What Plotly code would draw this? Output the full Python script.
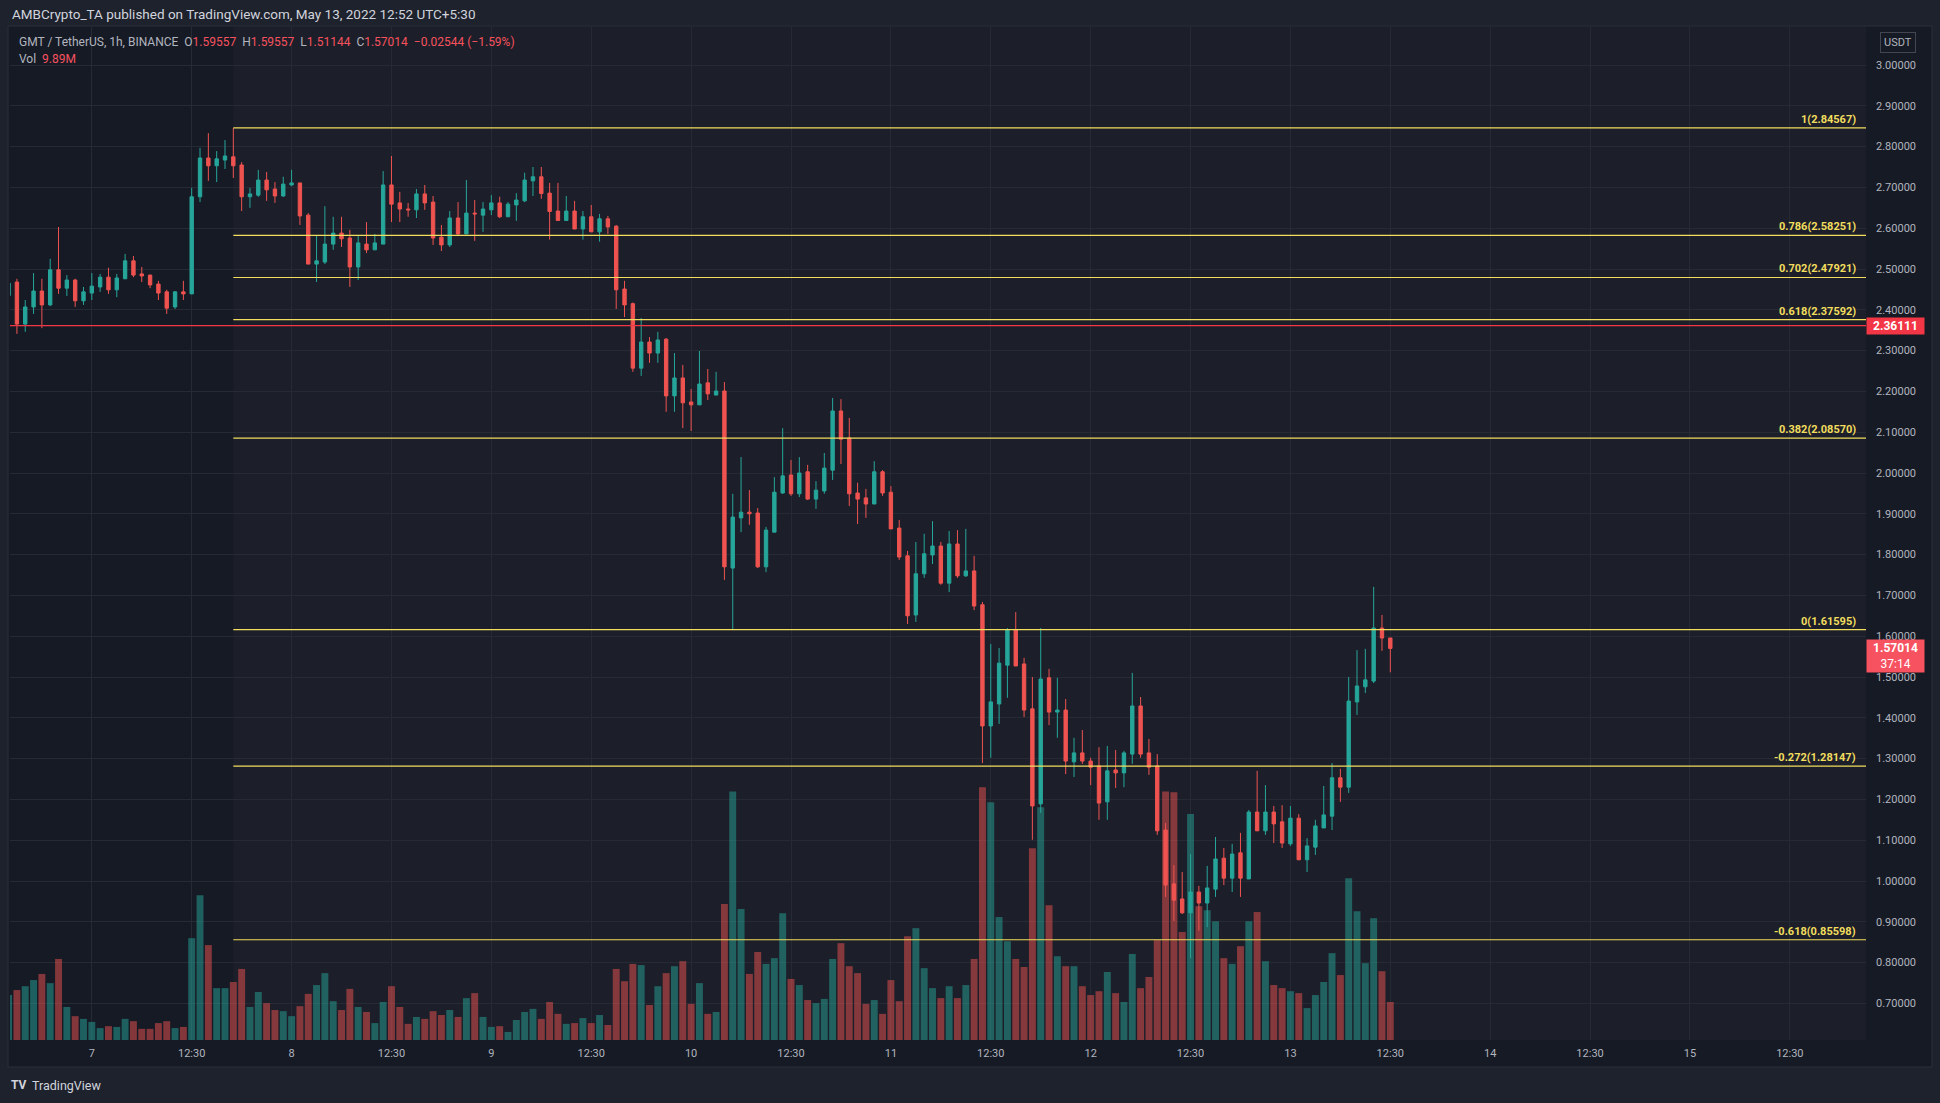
import pandas as pd
import plotly.graph_objects as go

# ---------------- data ----------------
START = "2022-05-06 14:30"   # first (partly hidden) hourly candle, UTC+5:30

opens = [
    2.435, 2.468, 2.365, 2.407, 2.446, 2.412, 2.498, 2.453, 2.473, 2.422,
    2.441, 2.456, 2.480, 2.449, 2.476, 2.520, 2.488, 2.485, 2.463, 2.444,
    2.407, 2.444, 2.439, 2.677, 2.772, 2.753, 2.767, 2.775, 2.755, 2.677,
    2.681, 2.718, 2.696, 2.679, 2.706, 2.711, 2.632, 2.512, 2.517, 2.561,
    2.588, 2.576, 2.505, 2.561, 2.547, 2.561, 2.706, 2.662, 2.647, 2.645,
    2.684, 2.664, 2.578, 2.559, 2.625, 2.586, 2.637, 2.632, 2.645, 2.662,
    2.628, 2.657, 2.667, 2.716, 2.726, 2.686, 2.642, 2.619, 2.642, 2.598,
    2.628, 2.591, 2.623, 2.605, 2.451, 2.415, 2.257, 2.321, 2.294, 2.328,
    2.189, 2.233, 2.174, 2.167, 2.221, 2.191, 2.201, 1.767, 1.890, 1.904,
    1.902, 1.770, 1.855, 1.951, 1.995, 1.949, 2.003, 1.936, 1.956, 2.007,
    2.152, 2.086, 1.951, 1.939, 1.924, 2.003, 1.953, 1.865, 1.797, 1.652,
    1.753, 1.799, 1.821, 1.730, 1.826, 1.748, 1.760, 1.677, 1.380, 1.434,
    1.529, 1.615, 1.532, 1.422, 1.189, 1.498, 1.414, 1.419, 1.292, 1.314,
    1.294, 1.282, 1.194, 1.272, 1.265, 1.311, 1.429, 1.314, 1.282, 1.125,
    0.993, 0.956, 0.922, 0.973, 0.946, 0.980, 1.056, 1.007, 1.069, 1.005,
    1.169, 1.123, 1.169, 1.145, 1.091, 1.154, 1.052, 1.083, 1.130, 1.159,
    1.253, 1.230, 1.439, 1.476, 1.490, 1.620, 1.59557,
]
highs = [
    2.470, 2.476, 2.424, 2.490, 2.476, 2.525, 2.603, 2.485, 2.476, 2.456,
    2.490, 2.488, 2.503, 2.488, 2.537, 2.532, 2.505, 2.486, 2.471, 2.449,
    2.446, 2.471, 2.699, 2.797, 2.833, 2.789, 2.816, 2.84567, 2.762, 2.699,
    2.743, 2.738, 2.713, 2.726, 2.743, 2.711, 2.637, 2.581, 2.654, 2.628,
    2.628, 2.596, 2.581, 2.615, 2.586, 2.740, 2.777, 2.689, 2.662, 2.696,
    2.706, 2.679, 2.608, 2.642, 2.664, 2.718, 2.669, 2.664, 2.681, 2.677,
    2.664, 2.686, 2.736, 2.750, 2.750, 2.711, 2.711, 2.679, 2.667, 2.642,
    2.657, 2.635, 2.630, 2.608, 2.471, 2.418, 2.380, 2.333, 2.346, 2.331,
    2.294, 2.265, 2.206, 2.299, 2.255, 2.248, 2.223, 1.949, 2.039, 1.958,
    1.914, 1.868, 1.990, 2.110, 2.032, 2.039, 2.020, 1.980, 2.049, 2.184,
    2.181, 2.135, 1.976, 1.961, 2.029, 2.007, 1.968, 1.885, 1.809, 1.831,
    1.851, 1.882, 1.831, 1.858, 1.860, 1.863, 1.797, 1.684, 1.581, 1.571,
    1.620, 1.659, 1.547, 1.500, 1.620, 1.520, 1.498, 1.446, 1.351, 1.370,
    1.302, 1.328, 1.331, 1.321, 1.319, 1.510, 1.451, 1.348, 1.311, 1.142,
    1.039, 1.022, 1.066, 0.988, 1.037, 1.108, 1.081, 1.091, 1.118, 1.174,
    1.270, 1.235, 1.184, 1.186, 1.184, 1.164, 1.105, 1.150, 1.233, 1.289,
    1.275, 1.500, 1.566, 1.569, 1.721, 1.652, 1.59557,
]
lows = [
    2.430, 2.341, 2.346, 2.390, 2.355, 2.409, 2.439, 2.434, 2.407, 2.412,
    2.424, 2.444, 2.439, 2.431, 2.476, 2.480, 2.468, 2.453, 2.424, 2.390,
    2.402, 2.424, 2.439, 2.664, 2.716, 2.713, 2.745, 2.723, 2.642, 2.650,
    2.677, 2.667, 2.662, 2.677, 2.703, 2.608, 2.512, 2.468, 2.512, 2.547,
    2.554, 2.456, 2.473, 2.539, 2.547, 2.561, 2.615, 2.615, 2.628, 2.625,
    2.645, 2.559, 2.544, 2.554, 2.583, 2.586, 2.569, 2.591, 2.632, 2.625,
    2.628, 2.618, 2.664, 2.679, 2.672, 2.572, 2.619, 2.619, 2.598, 2.572,
    2.591, 2.567, 2.586, 2.402, 2.382, 2.248, 2.238, 2.270, 2.270, 2.150,
    2.150, 2.110, 2.103, 2.167, 2.179, 2.191, 1.738, 1.615, 1.855, 1.873,
    1.767, 1.757, 1.855, 1.949, 1.944, 1.941, 1.934, 1.912, 1.949, 1.983,
    2.022, 1.919, 1.875, 1.890, 1.924, 1.944, 1.863, 1.787, 1.630, 1.635,
    1.743, 1.777, 1.726, 1.708, 1.743, 1.745, 1.664, 1.289, 1.302, 1.385,
    1.449, 1.527, 1.402, 1.101, 1.167, 1.382, 1.351, 1.262, 1.255, 1.287,
    1.235, 1.150, 1.150, 1.228, 1.230, 1.287, 1.302, 1.260, 1.113, 0.961,
    0.902, 0.919, 0.811, 0.878, 0.887, 0.961, 0.990, 0.973, 0.961, 1.005,
    1.123, 1.113, 1.093, 1.081, 1.086, 1.052, 1.022, 1.064, 1.130, 1.125,
    1.194, 1.216, 1.407, 1.461, 1.485, 1.564, 1.51144,
]
closes = [
    2.465, 2.365, 2.407, 2.446, 2.412, 2.498, 2.453, 2.473, 2.422, 2.444,
    2.458, 2.480, 2.449, 2.478, 2.520, 2.485, 2.483, 2.461, 2.441, 2.404,
    2.444, 2.439, 2.677, 2.772, 2.753, 2.770, 2.777, 2.753, 2.677, 2.684,
    2.718, 2.694, 2.679, 2.708, 2.711, 2.630, 2.512, 2.520, 2.561, 2.588,
    2.574, 2.505, 2.564, 2.547, 2.564, 2.706, 2.659, 2.647, 2.645, 2.684,
    2.662, 2.576, 2.559, 2.625, 2.586, 2.637, 2.635, 2.647, 2.662, 2.628,
    2.659, 2.669, 2.718, 2.726, 2.685, 2.641, 2.619, 2.642, 2.598, 2.628,
    2.591, 2.623, 2.603, 2.449, 2.412, 2.257, 2.321, 2.294, 2.326, 2.189,
    2.233, 2.172, 2.167, 2.218, 2.194, 2.201, 1.770, 1.892, 1.904, 1.900,
    1.770, 1.860, 1.953, 1.993, 1.949, 2.000, 1.936, 1.958, 2.012, 2.152,
    2.083, 1.949, 1.936, 1.924, 2.003, 1.951, 1.863, 1.794, 1.650, 1.753,
    1.802, 1.821, 1.730, 1.826, 1.748, 1.760, 1.674, 1.380, 1.439, 1.534,
    1.615, 1.527, 1.419, 1.184, 1.495, 1.414, 1.419, 1.294, 1.314, 1.294,
    1.279, 1.191, 1.270, 1.265, 1.314, 1.429, 1.311, 1.279, 1.123, 0.990,
    0.953, 0.922, 0.973, 0.946, 0.983, 1.054, 1.007, 1.066, 1.007, 1.169,
    1.123, 1.169, 1.140, 1.093, 1.154, 1.052, 1.086, 1.135, 1.162, 1.253,
    1.230, 1.441, 1.478, 1.493, 1.620, 1.59558, 1.57014,
]
volumes_m = [
    11.7, 13.0, 14.0, 15.6, 17.2, 14.8, 21.1, 8.6, 6.2, 5.5,
    4.7, 3.1, 3.6, 3.4, 5.5, 4.9, 2.9, 2.9, 4.4, 4.9,
    3.1, 3.4, 26.5, 37.7, 24.7, 13.5, 13.5, 15.1, 18.5, 8.6,
    12.5, 9.6, 7.8, 7.5, 6.2, 8.8, 12.0, 14.3, 17.4, 10.1,
    7.8, 13.3, 8.6, 7.3, 4.4, 9.9, 14.0, 8.6, 4.2, 6.0,
    5.5, 7.5, 6.5, 7.8, 6.0, 10.9, 12.2, 6.0, 3.4, 3.6,
    2.1, 5.2, 7.3, 8.1, 5.5, 9.9, 6.8, 4.2, 4.4, 5.7,
    4.4, 6.5, 3.9, 18.5, 15.3, 19.8, 19.5, 9.1, 14.0, 17.4,
    19.2, 20.5, 9.4, 14.8, 6.8, 7.3, 35.4, 64.7, 34.1, 17.2,
    22.9, 19.8, 21.3, 33.0, 15.9, 14.3, 10.4, 9.6, 10.7, 21.1,
    25.2, 19.2, 17.4, 9.4, 10.4, 6.8, 15.6, 10.1, 27.0, 29.1,
    18.7, 13.5, 10.9, 14.0, 10.9, 14.3, 21.1, 65.8, 61.9, 32.0,
    25.7, 21.1, 19.0, 49.9, 60.6, 35.1, 21.8, 19.2, 19.2, 14.0,
    11.7, 12.7, 17.7, 12.2, 9.9, 22.4, 13.5, 16.4, 26.0, 64.7,
    64.5, 28.1, 58.8, 34.8, 33.8, 30.9, 21.3, 19.8, 24.4, 30.9,
    33.3, 20.5, 14.3, 13.5, 12.7, 12.2, 8.3, 11.7, 15.1, 22.6,
    16.9, 42.1, 33.5, 20.0, 31.7, 17.9, 9.89,
]

fib_ratios = ["1", "0.786", "0.702", "0.618", "0.382", "0", "-0.272", "-0.618"]
fib_prices = [2.84567, 2.58251, 2.47921, 2.37592, 2.08570, 1.61595, 1.28147, 0.85598]
fib_anchor_index = 27          # candle where the fib tool starts
hline_price = 2.36111
countdown = "37:14"
day_labels = [7, 8, 9, 10, 11, 12, 13, 14, 15]

title_text = "AMBCrypto_TA published on TradingView.com, May 13, 2022 12:52 UTC+5:30"
symbol_text = "GMT / TetherUS, 1h, BINANCE"

# ---------------- geometry / style ----------------
W, H = 1940, 1103
ML, MR, MT, MB = 10, 74, 27, 63
PW, PH = W - ML - MR, H - MT - MB


def fx(px):
    return (px - ML) / PW


def fy(py):
    return (H - MB - py) / PH


BG_OUT = "#1e222d"
BG_PANE = "#161a25"
BG_SHADE = "#1c1f29"
GRID = "#262a35"
TXT = "#b2b5be"
TXT_HI = "#d1d4dc"
UP = "#26a69a"
DN = "#ef5350"
RED_TXT = "#f7525f"
FIB = "#f2dd5e"
FONT = "Roboto, 'Liberation Sans', sans-serif"

times = pd.date_range(START, periods=len(opens), freq="h")
t0 = times[0]
x_left = t0 + pd.Timedelta(hours=0.17)
x_right = t0 + pd.Timedelta(hours=223.15)

vol_colors = ["rgba(38,166,154,0.5)" if c >= o else "rgba(239,83,80,0.5)"
              for o, c in zip(opens, closes)]

fig = go.Figure()
fig.add_trace(go.Bar(
    x=times, y=volumes_m, yaxis="y",
    marker=dict(color=vol_colors, line=dict(width=0)),
    hoverinfo="skip", showlegend=False,
))
fig.add_trace(go.Candlestick(
    x=times, open=opens, high=highs, low=lows, close=closes, yaxis="y2",
    increasing=dict(line=dict(color=UP, width=1), fillcolor=UP),
    decreasing=dict(line=dict(color=DN, width=1), fillcolor=DN),
    whiskerwidth=0, hoverinfo="skip", showlegend=False,
))

tick_vals, tick_text = [], []
for d in day_labels:
    day = pd.Timestamp(2022, 5, d)
    tick_vals.append(day + pd.Timedelta(minutes=30))
    tick_text.append(str(d))
    tick_vals.append(day + pd.Timedelta(hours=12, minutes=30))
    tick_text.append("12:30")

shapes = [
    # pane with border (covers price axis and time axis area)
    dict(type="rect", xref="paper", yref="paper",
         x0=fx(8), x1=fx(1932), y0=fy(1067), y1=fy(26),
         fillcolor=BG_PANE, line=dict(color="#2a2e39", width=1), layer="below"),
    # fib background area
    dict(type="rect", xref="x", yref="paper",
         x0=times[fib_anchor_index], x1=x_right, y0=0, y1=1,
         fillcolor=BG_SHADE, line=dict(width=0), layer="below"),
    # red horizontal line
    dict(type="line", xref="paper", yref="y2", x0=0, x1=1,
         y0=hline_price, y1=hline_price, line=dict(color="#f23645", width=1.2)),
]
annotations = []
for r, p in zip(fib_ratios, fib_prices):
    shapes.append(dict(type="line", xref="x", yref="y2",
                       x0=times[fib_anchor_index], x1=x_right, y0=p, y1=p,
                       line=dict(color=FIB, width=1.2)))
    annotations.append(dict(
        xref="paper", yref="y2", x=fx(1858), y=p, xanchor="right", yanchor="bottom",
        text=f"<b>{r}({p:.5f})</b>", showarrow=False, yshift=0,
        font=dict(family=FONT, size=11, color=FIB)))

# price-axis labels
annotations.append(dict(
    xref="paper", yref="y2", x=fx(1866), y=hline_price, xanchor="left", yanchor="middle",
    text=f"<b>{hline_price:.5f}</b>", showarrow=False, bgcolor="#f23645", width=55,
    align="center", borderpad=1, font=dict(family=FONT, size=12, color="#ffffff")))
annotations.append(dict(
    xref="paper", yref="y2", x=fx(1866), y=closes[-1], xanchor="left", yanchor="middle",
    yshift=-8, text=f"<b>{closes[-1]:.5f}</b><br>{countdown}", showarrow=False,
    bgcolor=RED_TXT, width=55, align="center", borderpad=1,
    font=dict(family=FONT, size=12, color="#ffffff")))
annotations.append(dict(
    xref="paper", yref="paper", x=fx(1898), y=fy(42.5), xanchor="center", yanchor="middle",
    text="USDT", showarrow=False, bordercolor="#434651", borderwidth=1, borderpad=3,
    font=dict(family=FONT, size=11, color=TXT)))

# header texts
chg = closes[-1] - closes[-2]
pct = chg / closes[-2] * 100
sp = "\u00a0"


def red(s):
    return f"<span style='color:{RED_TXT}'>{s}</span>"


legend_line = (f"{symbol_text}{sp}{sp}O{red(f'{opens[-1]:.5f}')}{sp}{sp}"
               f"H{red(f'{highs[-1]:.5f}')}{sp}{sp}L{red(f'{lows[-1]:.5f}')}{sp}{sp}"
               f"C{red(f'{closes[-1]:.5f}')}{sp}{sp}"
               + red(f"\u2212{abs(chg):.5f}{sp}(\u2212{abs(pct):.2f}%)"))
annotations += [
    dict(xref="paper", yref="paper", x=fx(10), y=fy(14), xanchor="left", yanchor="middle",
         text=title_text, showarrow=False, font=dict(family=FONT, size=13.5, color=TXT_HI)),
    dict(xref="paper", yref="paper", x=fx(17), y=fy(42), xanchor="left", yanchor="middle",
         text=legend_line, showarrow=False, font=dict(family=FONT, size=12, color=TXT)),
    dict(xref="paper", yref="paper", x=fx(17), y=fy(59), xanchor="left", yanchor="middle",
         text=f"Vol{sp}{sp}{red(f'{volumes_m[-1]:.2f}M')}", showarrow=False,
         font=dict(family=FONT, size=12, color=TXT)),
    dict(xref="paper", yref="paper", x=fx(9), y=fy(1085), xanchor="left", yanchor="middle",
         text="<b>TV</b>", showarrow=False, font=dict(family=FONT, size=12, color=TXT_HI)),
    dict(xref="paper", yref="paper", x=fx(30), y=fy(1085), xanchor="left", yanchor="middle",
         text="TradingView", showarrow=False, font=dict(family=FONT, size=12.5, color=TXT_HI)),
]

price_top = 3.0 + (65 - MT) / 408
price_bot = 3.0 - (H - MB - 65) / 408
vol_top = PH * 9.89 / 38

fig.update_layout(
    width=W, height=H,
    margin=dict(l=ML, r=MR, t=MT, b=MB, pad=0),
    paper_bgcolor=BG_OUT, plot_bgcolor=BG_PANE,
    showlegend=False, bargap=0.17, boxgap=0.42,
    font=dict(family=FONT, color=TXT),
    xaxis=dict(type="date", range=[x_left, x_right], tickvals=tick_vals, ticktext=tick_text,
               showgrid=True, gridcolor=GRID, gridwidth=1, zeroline=False, showline=False,
               ticks="", ticklabelstandoff=5, tickfont=dict(family=FONT, size=11, color=TXT),
               rangeslider=dict(visible=False), fixedrange=True),
    yaxis=dict(range=[0, vol_top], visible=False, showgrid=False, fixedrange=True),
    yaxis2=dict(overlaying="y", side="right", range=[price_bot, price_top],
                tick0=0, dtick=0.1, tickformat=".5f", showgrid=True, gridcolor=GRID,
                gridwidth=1, zeroline=False, showline=False, ticks="",
                ticklabelstandoff=9, tickfont=dict(family=FONT, size=11, color=TXT),
                fixedrange=True),
    shapes=shapes, annotations=annotations,
)

fig.write_html("out.html",
               config={"displayModeBar": False},
               post_script="document.body.style.margin='0px';"
                           "document.body.style.overflow='hidden';")
